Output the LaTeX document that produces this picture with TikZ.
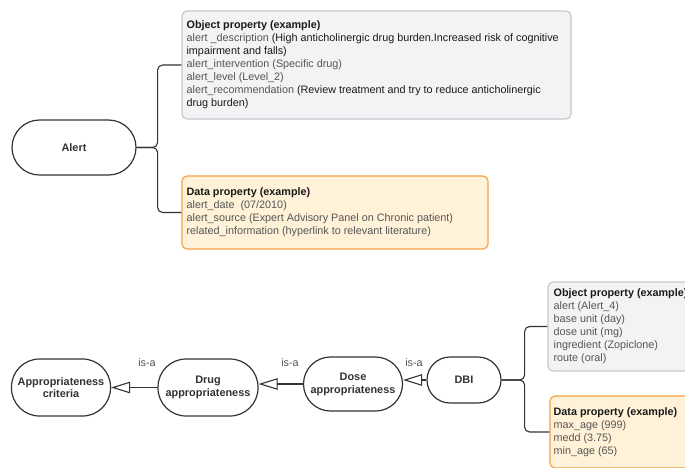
\documentclass[tikz,border=0pt]{standalone}
\usepackage{fontspec}
\setmainfont{Liberation Sans}
\usetikzlibrary{arrows.meta}
\definecolor{ink}{HTML}{333333}
\definecolor{keygray}{HTML}{555555}
\definecolor{valblack}{HTML}{1A1A1A}
\definecolor{objfill}{HTML}{F2F3F5}
\definecolor{objdraw}{HTML}{C6C8CC}
\definecolor{datafill}{HTML}{FFF2D8}
\definecolor{datadraw}{HTML}{F4A245}
\newcommand{\kk}[1]{\textcolor{keygray}{#1}}
\newcommand{\vv}[1]{\textcolor{valblack}{#1}}
\begin{document}
\begin{tikzpicture}[x=1pt,y=-1pt,
  term/.style={draw=ink, line width=1.2pt, fill=white, rounded corners=#1,
    align=center, inner sep=0pt, font=\bfseries\fontsize{10.9}{12.8}\selectfont, text=ink},
  objbox/.style={draw=objdraw, fill=objfill, line width=1.2pt, rounded corners=5pt, inner sep=0pt},
  databox/.style={draw=datadraw, fill=datafill, line width=1.2pt, rounded corners=5pt, inner sep=0pt},
  boxtext/.style={anchor=west, align=left, inner sep=0pt, text=keygray,
    font=\fontsize{10.8}{13}\selectfont},
  conn/.style={draw=ink, line width=1.1pt, rounded corners=5pt},
  isa/.style={draw=ink, line width=1.1pt, -{Triangle[open, length=19pt, width=11.5pt]}},
  isalabel/.style={inner sep=0pt, text=keygray, font=\fontsize{10.8}{12.8}\selectfont}
]
\clip (0,0) rectangle (685,467);
\fill[white] (0,0) rectangle (685,467);

% ---------- top part ----------
\node[term=27.5pt, minimum width=124pt, minimum height=55pt] (alert) at (74,147.5) {Alert};

\node[objbox, minimum width=389pt, minimum height=108pt] (obj1) at (376.5,65) {};
\node[boxtext] (obj1text) at ([xshift=5pt]obj1.west)
 {\textcolor{valblack}{\textbf{Object property (example)}}\\
  \kk{alert \_description} \vv{(High anticholinergic drug burden.Increased risk of cognitive}\\
  \vv{impairment and falls)}\\
  \kk{alert\_intervention (Specific drug)}\\
  \kk{alert\_level (Level\_2)}\\
  \kk{alert\_recommendation} \vv{(Review treatment and try to reduce anticholinergic}\\
  \vv{drug burden)}};

\node[databox, minimum width=306pt, minimum height=73pt] (data1) at (335,212.5) {};
\node[boxtext] (data1text) at ([xshift=5pt]data1.west)
 {\textcolor{valblack}{\textbf{Data property (example)}}\\
  \kk{alert\_date\ \ (07/2010)}\\
  \kk{alert\_source (Expert Advisory Panel on Chronic patient)}\\
  \kk{related\_information (hyperlink to relevant literature)}};

\draw[conn] (alert.east) -- ++(21,0) |- (obj1.west);
\draw[conn] (alert.east) -- ++(21,0) |- (data1.west);

% ---------- bottom part ----------
\node[term=28pt, minimum width=99pt, minimum height=57pt] (crit) at (61,387.5) {Appropriateness\\criteria};
\node[term=28pt, minimum width=100pt, minimum height=57pt] (drug) at (208,387.5) {Drug\\appropriateness};
\node[term=27pt, minimum width=99pt, minimum height=54pt] (dose) at (353,384) {Dose\\appropriateness};
\node[term=23pt, minimum width=74pt, minimum height=46pt] (dbi) at (464,380) {DBI};

\draw[isa] (drug.west) -- (crit.east);
\draw[isa] (dose.west) -- (dose.west -| drug.east);
\draw[isa] (dbi.west) -- (dbi.west -| dose.east);

\node[isalabel] (isa1) at (147,363) {is-a};
\node[isalabel] (isa2) at (290,363) {is-a};
\node[isalabel] (isa3) at (414,363) {is-a};

\node[objbox, minimum width=180pt, minimum height=89pt] (obj2) at (638,326.5) {};
\node[boxtext] (obj2text) at ([xshift=6pt]obj2.west)
 {\textcolor{valblack}{\textbf{Object property (example)}}\\
  alert (Alert\_4)\\
  base unit (day)\\
  dose unit (mg)\\
  ingredient (Zopiclone)\\
  route (oral)};

\node[databox, minimum width=178pt, minimum height=72pt] (data2) at (639,432) {};
\node[boxtext] (data2text) at ([xshift=4pt]data2.west)
 {\textcolor{valblack}{\textbf{Data property (example)}}\\
  max\_age (999)\\
  medd (3.75)\\
  min\_age (65)};

\draw[conn] (dbi.east) -- ++(23,0) |- (obj2.west);
\draw[conn] (dbi.east) -- ++(23,0) |- (data2.west);
\end{tikzpicture}
\end{document}
